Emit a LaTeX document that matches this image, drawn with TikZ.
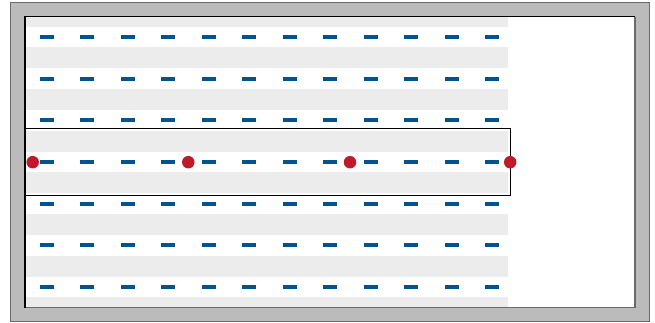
\documentclass[tikz,border=0pt]{standalone}
\definecolor{framegrey}{HTML}{BBBBBB}
\definecolor{frameedge}{HTML}{6A6A6A}
\definecolor{bandgrey}{HTML}{ECECEC}
\definecolor{dashblue}{HTML}{00538F}
\definecolor{dotred}{HTML}{BE1A2A}
\tikzset{
  lanedash/.style={fill=dashblue, draw=none},
  reddot/.style={circle, fill=dotred, draw=none, inner sep=0pt, minimum size=12.5pt},
}
\begin{document}
\begin{tikzpicture}[x=1pt,y=-1pt]
\useasboundingbox (0,0) rectangle (655,322);
% outer frame
\fill[framegrey, draw=frameedge, line width=1.2pt] (10.7,2.7) rectangle (649.3,321.3);
\fill[white] (25,16.7) rectangle (635,307.7);
% grey bands
\fill[bandgrey] (25,16.7) rectangle (508,307.7);
\foreach \i in {0,...,6} {
  \pgfmathsetmacro{\yy}{37+41.667*\i}
  \fill[white] (25,\yy-10.2) rectangle (508,\yy+10.2);
}
% dashes
\foreach \i in {0,...,6} {
  \foreach \j in {0,...,11} {
    \pgfmathsetmacro{\yy}{37+41.667*\i}
    \pgfmathsetmacro{\xx}{40+40.45*\j}
    \fill[lanedash] (\xx,\yy-2) rectangle (\xx+14,\yy+2);
  }
}
% inner frame edge
\draw[frameedge, line width=1.4pt] (635,16.7) -- (635,307.7) -- (25,307.7);
\draw[black, line width=1.2pt] (25,307.7) -- (25,16.7) -- (635,16.7);
% highlight rectangle
\draw[black, line width=0.9pt] (25,128.3) rectangle (510.7,195.3);
% dots
\node[reddot] (d1) at (32.7,162.2) {};
\node[reddot] (d2) at (188.3,162.2) {};
\node[reddot] (d3) at (350,162.2) {};
\node[reddot] (d4) at (510.2,162.2) {};
\end{tikzpicture}
\end{document}
